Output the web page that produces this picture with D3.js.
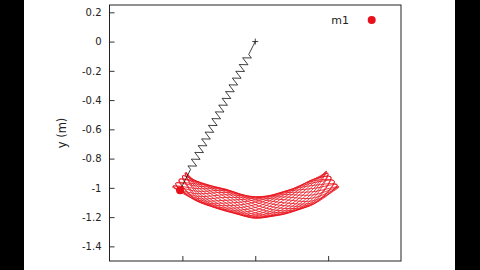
<!DOCTYPE html>
<html lang="en">
<head>
<meta charset="utf-8">
<title>Spring pendulum</title>
<script src="https://d3js.org/d3.v7.min.js"></script>
<style>
  html, body { margin: 0; padding: 0; background: #000; }
  svg { display: block; }
  text { font-family: "DejaVu Sans", sans-serif; fill: #222; }
</style>
</head>
<body>
<div id="chart"></div>
<script>
// y axis ticks (m)
const yTicks = [0.2, 0, -0.2, -0.4, -0.6, -0.8, -1, -1.2, -1.4];
const xTicks = [-0.5, 0, 0.5];

// pivot and current mass position
const pivot = [0, 0];
const mass = [-0.516, -1.016];
const coilTurns = 17;

// path of m1 (turning points + points across the bowl)
const trajX = [
  -0.570, -0.4, -0.2, 0, 0.2, 0.4,
   0.573, 0.4, 0.2, 0, -0.2, -0.4,
  -0.564, -0.4, -0.2, 0, 0.2, 0.4,
   0.562, 0.4, 0.2, 0, -0.2, -0.4,
  -0.546, -0.4, -0.2, 0, 0.2, 0.4,
   0.542, 0.4, 0.2, 0, -0.2, -0.4,
  -0.523, -0.4, -0.2, 0, 0.2, 0.4,
   0.519, 0.4, 0.2, 0, -0.2, -0.4,
  -0.499, -0.4, -0.2, 0, 0.2, 0.4,
   0.499, 0.4, 0.2, 0, -0.2, -0.4,
  -0.481, -0.4, -0.2, 0, 0.2, 0.4,
   0.488, 0.4, 0.2, 0, -0.2, -0.4,
  -0.475, -0.4, -0.2, 0, 0.2, 0.4,
   0.488, 0.4, 0.2, 0, -0.2, -0.4,
  -0.481, -0.4, -0.2, 0, 0.2, 0.4,
   0.499, 0.4, 0.2, 0, -0.2, -0.4,
  -0.499, -0.4, -0.2, 0, 0.2, 0.4,
   0.519, 0.4, 0.2, 0, -0.2, -0.4,
  -0.523, -0.4, -0.2, 0, 0.2, 0.4,
   0.542, 0.4, 0.2, 0, -0.2, -0.4,
  -0.546, -0.4, -0.2, 0, 0.2, 0.4,
   0.562, 0.4, 0.2, 0, -0.2, -0.4,
  -0.564, -0.4, -0.2, 0, 0.2, 0.4,
   0.573, 0.4, 0.2, 0, -0.2, -0.4,
  -0.516
];
const trajY = [
  -0.995, -1.057, -1.047, -1.060, -1.062, -1.069,
  -0.993, -1.048, -1.046, -1.063, -1.065, -1.071,
  -0.988, -1.023, -1.019, -1.070, -1.102, -1.100,
  -0.979, -1.004, -1.026, -1.082, -1.104, -1.089,
  -0.969, -0.988, -1.009, -1.097, -1.141, -1.112,
  -0.954, -0.965, -1.026, -1.115, -1.138, -1.089,
  -0.944, -0.963, -1.019, -1.134, -1.169, -1.100,
  -0.926, -0.943, -1.046, -1.153, -1.157, -1.071,
  -0.918, -0.954, -1.047, -1.171, -1.180, -1.069,
  -0.901, -0.943, -1.081, -1.186, -1.157, -1.040,
  -0.899, -0.963, -1.085, -1.198, -1.169, -1.026,
  -0.887, -0.965, -1.122, -1.205, -1.138, -1.005,
  -0.892, -0.988, -1.122, -1.208, -1.141, -0.983,
  -0.887, -1.004, -1.157, -1.205, -1.104, -0.974,
  -0.899, -1.023, -1.150, -1.198, -1.102, -0.952,
  -0.901, -1.048, -1.177, -1.186, -1.065, -0.956,
  -0.918, -1.057, -1.160, -1.171, -1.062, -0.940,
  -0.926, -1.087, -1.177, -1.153, -1.031, -0.956,
  -0.944, -1.082, -1.150, -1.134, -1.034, -0.952,
  -0.954, -1.109, -1.157, -1.115, -1.012, -0.974,
  -0.969, -1.091, -1.122, -1.097, -1.023, -0.983,
  -0.979, -1.109, -1.122, -1.082, -1.012, -1.005,
  -0.988, -1.082, -1.085, -1.070, -1.034, -1.026,
  -0.993, -1.087, -1.081, -1.063, -1.031, -1.040,
  -1.016
];

const W = 480, H = 270;
const margin = {top: 5, right: 79, bottom: 9, left: 109.5};

const svg = d3.select("#chart").append("svg")
    .attr("width", W).attr("height", H);

// black side bars, white page
svg.append("rect").attr("width", W).attr("height", H).attr("fill", "#000");
svg.append("rect").attr("x", 24).attr("width", 431).attr("height", H).attr("fill", "#fff");

const x = d3.scaleLinear().domain([-1, 1]).range([margin.left, W - margin.right]);
const y = d3.scaleLinear().domain([-1.5, 0.25]).range([H - margin.bottom, margin.top]);

// trajectory
const pts = trajX.map((v, i) => [v, trajY[i]]);
const line = d3.line()
    .x(d => x(d[0]))
    .y(d => y(d[1]))
    .curve(d3.curveCatmullRom.alpha(0.5));

svg.append("path")
    .datum(pts)
    .attr("d", line)
    .attr("fill", "none")
    .attr("stroke", "#e8101a")
    .attr("stroke-width", 0.8);

// spring from pivot to mass
const dx = mass[0] - pivot[0], dy = mass[1] - pivot[1];
const len = Math.hypot(dx, dy);
const ux = dx / len, uy = dy / len;
const px = -uy, py = ux;
const amp = 0.027, t0 = 0.087, t1 = 0.86;
const springPts = [[pivot[0], pivot[1]]];
const at = (t, s) => [pivot[0] + dx * t + px * amp * s, pivot[1] + dy * t + py * amp * s];
springPts.push(at(t0, 0));
for (let i = 0; i < coilTurns; i++) {
  const step = (t1 - t0) / coilTurns;
  const a = t0 + step * i;
  springPts.push(at(a + step * 0.25, 1));
  springPts.push(at(a + step * 0.75, -1));
}
springPts.push(at(t1, 0));
springPts.push([mass[0], mass[1]]);

svg.append("path")
    .datum(springPts)
    .attr("d", d3.line().x(d => x(d[0])).y(d => y(d[1])))
    .attr("fill", "none")
    .attr("stroke", "#111")
    .attr("stroke-width", 0.8);

// pivot cross
const cx = x(pivot[0]), cy = y(pivot[1]);
svg.append("path")
    .attr("d", `M${cx - 3},${cy}H${cx + 3}M${cx},${cy - 3}V${cy + 3}`)
    .attr("stroke", "#111").attr("stroke-width", 0.8);

// mass
svg.append("circle")
    .attr("cx", x(mass[0])).attr("cy", y(mass[1])).attr("r", 4)
    .attr("fill", "#e8101a");

// axes
const yAxis = d3.axisLeft(y).tickValues(yTicks)
    .tickSizeInner(-5).tickSizeOuter(0).tickPadding(8)
    .tickFormat(d => d === 0 ? "0" : String(+d.toFixed(1)));
const gy = svg.append("g").attr("transform", `translate(${margin.left},0)`).call(yAxis);
gy.select(".domain").remove();
gy.selectAll("line").attr("stroke", "#333");
gy.selectAll("text").style("font-size", "10px").attr("fill", "#222");

const xAxis = d3.axisBottom(x).tickValues(xTicks)
    .tickSizeInner(-5).tickSizeOuter(0).tickFormat("");
const gx = svg.append("g").attr("transform", `translate(0,${H - margin.bottom})`).call(xAxis);
gx.select(".domain").remove();
gx.selectAll("line").attr("stroke", "#333");

// frame
svg.append("rect")
    .attr("x", margin.left).attr("y", margin.top)
    .attr("width", W - margin.right - margin.left)
    .attr("height", H - margin.bottom - margin.top)
    .attr("fill", "none").attr("stroke", "#222").attr("stroke-width", 1);

// y label
svg.append("text")
    .attr("transform", `translate(66,${(margin.top + H - margin.bottom) / 2}) rotate(-90)`)
    .attr("text-anchor", "middle")
    .style("font-size", "11.5px")
    .text("y (m)");

// legend
svg.append("text")
    .attr("x", 349).attr("y", 24)
    .attr("text-anchor", "end")
    .style("font-size", "11px")
    .text("m1");
svg.append("circle")
    .attr("cx", 371.7).attr("cy", 20).attr("r", 4)
    .attr("fill", "#e8101a");
</script>
</body>
</html>
